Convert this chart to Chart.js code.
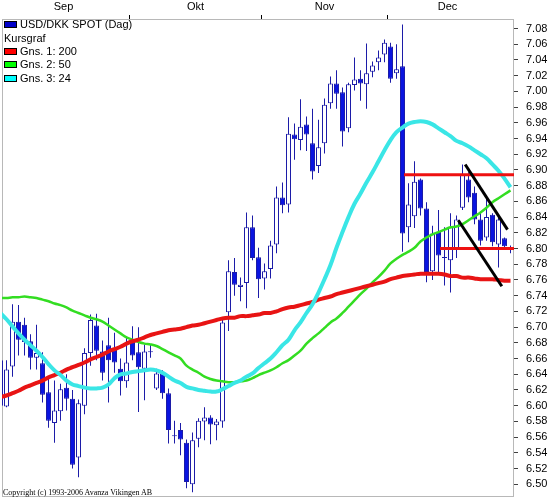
<!DOCTYPE html>
<html>
<head>
<meta charset="utf-8">
<script src="https://cdn.jsdelivr.net/npm/chart.js@4.4.1/dist/chart.umd.min.js"></script>
<style>
  html, body { margin: 0; padding: 0; background: #fff; }
  #wrap { position: relative; width: 549px; height: 498px; overflow: hidden; }
  #chart { position: absolute; left: 0; top: 0; }
  .lg { position: absolute; left: 4px; font: 11px "Liberation Sans", Arial, sans-serif; line-height: 13px; white-space: nowrap; color: #000; }
  .lg i { display: inline-block; width: 11px; height: 5px; border: 1px solid #000; margin-right: 3px; }
  #copy { position: absolute; left: 3px; top: 489px; font: 8px "Liberation Serif", serif; line-height: 8px; white-space: nowrap; color: #000; }
</style>
</head>
<body>
<div id="wrap">
  <canvas id="chart" width="549" height="498"></canvas>
  <div class="lg" style="top:18px"><i style="background:#0000c8"></i>USD/DKK SPOT (Dag)</div>
  <div class="lg" style="top:31.5px">Kursgraf</div>
  <div class="lg" style="top:45px"><i style="background:#ff0000"></i>Gns. 1: 200</div>
  <div class="lg" style="top:58.3px"><i style="background:#00ff00"></i>Gns. 2: 50</div>
  <div class="lg" style="top:71.5px"><i style="background:#00ffff"></i>Gns. 3: 24</div>
  <div id="copy">Copyright (c) 1993-2006 Avanza Vikingen AB</div>
</div>
<script>
  // daily candles, one per trading day (index 0 = last day of Aug)
  const openP = [6.658, 6.599, 6.650, 6.707, 6.703, 6.682, 6.661, 6.654, 6.617, 6.578,
    6.593, 6.623, 6.609, 6.534, 6.600, 6.667, 6.702, 6.669, 6.677, 6.672,
    6.647, 6.631, 6.681, 6.668, 6.647, 6.668, 6.622, 6.641, 6.616, 6.561,
    6.569, 6.553, 6.500, 6.558, 6.580, 6.585, 6.575, 6.580, 6.719, 6.770,
    6.751, 6.756, 6.827, 6.789, 6.762, 6.774, 6.805, 6.865, 6.856, 6.945,
    6.938, 6.958, 6.934, 6.905, 6.934, 6.985, 7.010, 6.999, 6.953, 7.008,
    7.016, 7.009, 7.025, 7.037, 7.047, 7.057, 7.023, 7.032, 6.827, 6.841,
    6.888, 6.851, 6.771, 6.821, 6.788, 6.785, 6.798, 6.852, 6.888, 6.871,
    6.837, 6.814, 6.843, 6.805, 6.813, 6.800];
  const highP = [6.660, 6.658, 6.729, 6.728, 6.712, 6.691, 6.703, 6.668, 6.636, 6.632,
    6.628, 6.640, 6.620, 6.608, 6.673, 6.716, 6.717, 6.683, 6.712, 6.693,
    6.660, 6.687, 6.701, 6.700, 6.678, 6.678, 6.647, 6.645, 6.622, 6.581,
    6.578, 6.557, 6.566, 6.584, 6.598, 6.588, 6.583, 6.711, 6.785, 6.788,
    6.763, 6.846, 6.842, 6.801, 6.781, 6.810, 6.879, 6.884, 6.967, 6.959,
    6.990, 6.968, 6.978, 6.964, 6.991, 7.019, 7.027, 7.005, 7.011, 7.043,
    7.027, 7.061, 7.038, 7.052, 7.066, 7.062, 7.060, 7.085, 6.883, 6.911,
    6.889, 6.859, 6.829, 6.849, 6.827, 6.845, 6.842, 6.907, 6.897, 6.879,
    6.845, 6.864, 6.845, 6.840, 6.814, 6.804];
  const lowP = [6.597, 6.598, 6.637, 6.664, 6.664, 6.646, 6.646, 6.604, 6.572, 6.553,
    6.581, 6.594, 6.520, 6.509, 6.589, 6.651, 6.658, 6.632, 6.604, 6.642,
    6.613, 6.623, 6.658, 6.592, 6.607, 6.661, 6.620, 6.609, 6.552, 6.552,
    6.537, 6.495, 6.490, 6.547, 6.556, 6.551, 6.556, 6.572, 6.695, 6.740,
    6.733, 6.724, 6.785, 6.737, 6.748, 6.762, 6.794, 6.845, 6.846, 6.913,
    6.925, 6.924, 6.888, 6.896, 6.921, 6.978, 6.978, 6.930, 6.948, 7.001,
    6.988, 6.978, 7.018, 7.027, 7.037, 7.011, 7.016, 6.796, 6.808, 6.826,
    6.842, 6.757, 6.760, 6.768, 6.753, 6.744, 6.788, 6.849, 6.859, 6.831,
    6.804, 6.810, 6.803, 6.776, 6.801, 6.794];
  const closeP = [6.600, 6.646, 6.707, 6.684, 6.681, 6.661, 6.667, 6.614, 6.581, 6.594,
    6.621, 6.609, 6.525, 6.603, 6.667, 6.709, 6.670, 6.642, 6.658, 6.655,
    6.631, 6.655, 6.664, 6.649, 6.669, 6.668, 6.641, 6.616, 6.569, 6.561,
    6.557, 6.503, 6.556, 6.581, 6.585, 6.576, 6.580, 6.706, 6.771, 6.754,
    6.754, 6.827, 6.788, 6.761, 6.771, 6.804, 6.865, 6.855, 6.946, 6.939,
    6.955, 6.945, 6.898, 6.929, 6.983, 7.010, 6.997, 6.949, 7.009, 7.015,
    7.010, 7.023, 7.033, 7.043, 7.062, 7.016, 7.028, 6.819, 6.856, 6.885,
    6.851, 6.770, 6.819, 6.791, 6.788, 6.827, 6.837, 6.894, 6.865, 6.837,
    6.810, 6.840, 6.808, 6.837, 6.803, 6.800];

  // moving averages, one value per day
  const ma200 = [6.611, 6.613, 6.616, 6.619, 6.623, 6.626, 6.629, 6.632, 6.636, 6.639,
    6.642, 6.646, 6.649, 6.652, 6.655, 6.659, 6.662, 6.665, 6.669, 6.672,
    6.675, 6.679, 6.682, 6.684, 6.687, 6.690, 6.692, 6.694, 6.696, 6.697,
    6.698, 6.700, 6.702, 6.703, 6.705, 6.707, 6.709, 6.711, 6.712, 6.712,
    6.714, 6.714, 6.715, 6.716, 6.718, 6.718, 6.720, 6.723, 6.725, 6.726,
    6.728, 6.730, 6.732, 6.735, 6.737, 6.739, 6.742, 6.744, 6.746, 6.748,
    6.750, 6.752, 6.754, 6.756, 6.758, 6.761, 6.763, 6.765, 6.766, 6.767,
    6.768, 6.768, 6.768, 6.768, 6.767, 6.765, 6.765, 6.763, 6.763, 6.762,
    6.761, 6.761, 6.761, 6.760, 6.759, 6.759];
  const ma50 = [6.737, 6.737, 6.738, 6.738, 6.739, 6.738, 6.737, 6.735, 6.733, 6.730,
    6.728, 6.725, 6.721, 6.718, 6.715, 6.712, 6.710, 6.707, 6.702, 6.697,
    6.692, 6.687, 6.684, 6.681, 6.679, 6.678, 6.676, 6.672, 6.668, 6.664,
    6.660, 6.651, 6.646, 6.642, 6.637, 6.634, 6.632, 6.631, 6.630, 6.630,
    6.631, 6.632, 6.635, 6.639, 6.642, 6.645, 6.649, 6.654, 6.658, 6.664,
    6.670, 6.679, 6.686, 6.692, 6.699, 6.706, 6.711, 6.718, 6.726, 6.734,
    6.742, 6.749, 6.757, 6.764, 6.772, 6.781, 6.787, 6.792, 6.796, 6.801,
    6.809, 6.814, 6.818, 6.821, 6.824, 6.827, 6.828, 6.831, 6.836, 6.841,
    6.846, 6.852, 6.859, 6.864, 6.869, 6.874];
  const ma24 = [6.718, 6.710, 6.701, 6.692, 6.684, 6.677, 6.670, 6.662, 6.653, 6.645,
    6.639, 6.632, 6.627, 6.625, 6.623, 6.622, 6.622, 6.623, 6.627, 6.635,
    6.640, 6.641, 6.643, 6.644, 6.645, 6.646, 6.645, 6.642, 6.637, 6.632,
    6.629, 6.624, 6.622, 6.620, 6.619, 6.618, 6.618, 6.621, 6.625, 6.629,
    6.632, 6.637, 6.641, 6.648, 6.654, 6.660, 6.668, 6.677, 6.684, 6.696,
    6.706, 6.718, 6.729, 6.744, 6.761, 6.779, 6.801, 6.821, 6.840, 6.857,
    6.870, 6.884, 6.897, 6.911, 6.925, 6.938, 6.948, 6.954, 6.959, 6.961,
    6.962, 6.961, 6.958, 6.953, 6.948, 6.943, 6.937, 6.934, 6.930, 6.925,
    6.920, 6.915, 6.907, 6.899, 6.889, 6.878];

  // drawn support/resistance levels and trend channel (day index, price)
  const levelPrice = [6.894, 6.800];
  const levelStart = [67.25, 73.25];
  const channelTop = [[77.45, 6.907], [84.5, 6.824]];
  const channelBottom = [[76.3, 6.836], [83.55, 6.752]];

  // axis labels
  const monthNames = ['Sep', 'Okt', 'Nov', 'Dec'];
  const monthMid = [10.5, 32.5, 54, 74.5];
  const monthEdge = [21.5, 43.5, 64.5];
  const yTicks = [6.50, 6.52, 6.54, 6.56, 6.58, 6.60, 6.62, 6.64, 6.66, 6.68,
    6.70, 6.72, 6.74, 6.76, 6.78, 6.80, 6.82, 6.84, 6.86, 6.88,
    6.90, 6.92, 6.94, 6.96, 6.98, 7.00, 7.02, 7.04, 7.06, 7.08];

  const X_MIN = 0.25, X_MAX = 85.5833;
  const Y_MIN = 6.48384, Y_MAX = 7.09209;

  const days = openP.map((_, i) => i);
  const up = days.map(i => closeP[i] > openP[i]);
  const toPts = arr => arr.map((v, i) => ({ x: i, y: v }));
  const pair = arr => arr.map(p => ({ x: p[0], y: p[1] }));

  const axisFont = { family: '"Liberation Sans", Arial, sans-serif', size: 11 };
  const bodyFill = '#0a14e0';
  const edge = '#1c1ca8';

  const framePlugin = {
    id: 'frame',
    beforeDatasetsDraw(chart) {
      const { ctx, chartArea: a } = chart;
      ctx.save();
      ctx.strokeStyle = '#b8b8b8';
      ctx.lineWidth = 1;
      ctx.strokeRect(a.left + 0.5, a.top + 0.5, a.right - a.left - 1, a.bottom - a.top - 1);
      ctx.restore();
    }
  };

  const lineDefaults = { type: 'line', pointRadius: 0, clip: 0, fill: false };

  const datasets = [
    { ...lineDefaults, label: 'trend top', data: pair(channelTop), borderColor: '#000', borderWidth: 3, order: 0 },
    { ...lineDefaults, label: 'trend bottom', data: pair(channelBottom), borderColor: '#000', borderWidth: 3, order: 0 },
    ...levelPrice.map((p, k) => ({
      ...lineDefaults, label: 'level ' + k,
      data: [{ x: levelStart[k], y: p }, { x: X_MAX, y: p }],
      borderColor: '#ee1111', borderWidth: 3, order: 1
    })),
    { ...lineDefaults, label: 'Gns. 3: 24', data: toPts(ma24), borderColor: '#3ae6e6', borderWidth: 4, tension: 0.4, order: 2 },
    { ...lineDefaults, label: 'Gns. 1: 200', data: toPts(ma200), borderColor: '#e81414', borderWidth: 4, tension: 0.4, order: 3 },
    { ...lineDefaults, label: 'Gns. 2: 50', data: toPts(ma50), borderColor: '#33dd22', borderWidth: 2.5, tension: 0.4, order: 4 },
    {
      type: 'bar', label: 'USD/DKK SPOT (Dag)',
      data: days.map(i => ({ x: i, y: [openP[i], closeP[i]] })),
      backgroundColor: up.map(u => u ? '#ffffff' : bodyFill),
      borderColor: edge, borderWidth: 1, borderSkipped: false,
      barThickness: 5, minBarLength: 1, inflateAmount: 0, clip: 0, order: 5
    },
    {
      type: 'bar', label: 'range',
      data: days.map(i => ({ x: i, y: [lowP[i], highP[i]] })),
      backgroundColor: edge, borderWidth: 0,
      barThickness: 1, inflateAmount: 0, clip: 0, order: 6
    }
  ];

  new Chart(document.getElementById('chart'), {
    type: 'bar',
    data: { datasets },
    plugins: [framePlugin],
    options: {
      responsive: false,
      animation: false,
      devicePixelRatio: 1,
      layout: { padding: { left: 2, top: 0, right: 0, bottom: 1 } },
      datasets: { bar: { grouped: false } },
      plugins: { legend: { display: false }, tooltip: { enabled: false } },
      scales: {
        x: {
          type: 'linear', position: 'top', min: X_MIN, max: X_MAX, offset: false,
          border: { display: false },
          grid: {
            offset: false, drawOnChartArea: false, tickLength: 4,
            color: c => (c.tick && monthEdge.includes(c.tick.value)) ? '#000' : 'rgba(0,0,0,0)'
          },
          ticks: {
            autoSkip: false, maxRotation: 0, padding: 1, color: '#000', font: axisFont,
            callback: v => {
              const k = monthMid.indexOf(v);
              return k >= 0 ? monthNames[k] : '';
            }
          },
          afterBuildTicks: s => {
            s.ticks = monthMid.concat(monthEdge).sort((a, b) => a - b).map(v => ({ value: v }));
          },
          afterFit: s => { s.height = 19; s.paddingLeft = 0; s.paddingRight = 0; }
        },
        y: {
          type: 'linear', position: 'right', min: Y_MIN, max: Y_MAX,
          border: { display: false },
          grid: { drawOnChartArea: false, tickLength: 4, color: '#404040' },
          ticks: { padding: 8, color: '#000', font: axisFont, callback: v => v.toFixed(2) },
          afterBuildTicks: s => { s.ticks = yTicks.map(v => ({ value: v })); },
          afterFit: s => { s.width = 35; s.paddingTop = 0; s.paddingBottom = 0; }
        }
      }
    }
  });
</script>
</body>
</html>
